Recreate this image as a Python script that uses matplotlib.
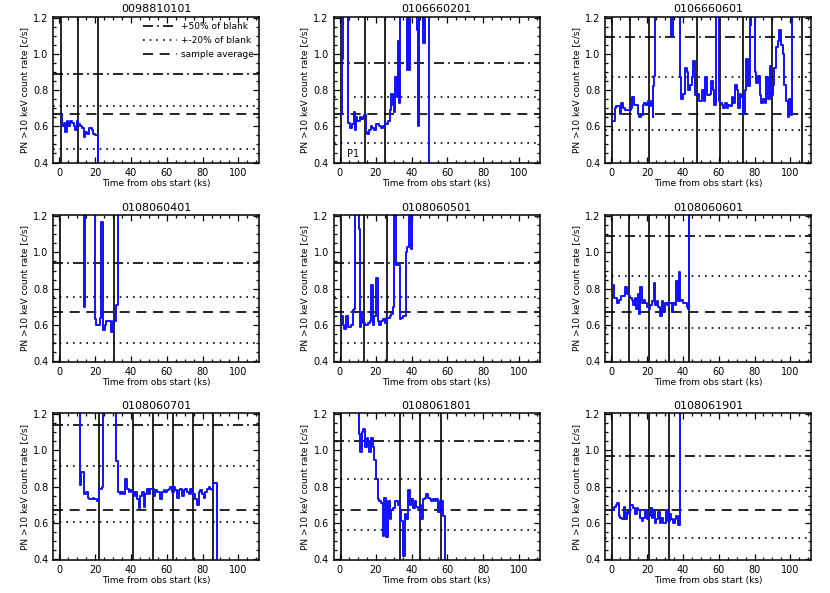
import matplotlib
matplotlib.use("Agg")
import matplotlib.pyplot as plt
from matplotlib.ticker import MultipleLocator

# observation ids (panel titles)
obs_ids = ["0098810101", "0106660201", "0106660601",
           "0108060401", "0108060501", "0108060601",
           "0108060701", "0108061801", "0108061901"]

# blank-sky rate per observation, and the sample average
blank_rate = [0.593, 0.633, 0.727, 0.627, 0.627, 0.727, 0.760, 0.700, 0.647]
sample_avg = 0.67

# light curves: bin start time (ks) and rate (c/s)
t1 = [0.7, 1.5, 2.6, 3.4, 4.1, 5.0, 6.0, 7.0, 8.0, 8.8,
      10.1, 10.6, 11.6, 12.5, 13.5, 14.5, 15.7, 16.8, 18.1, 19.0,
      20.0, 21.5]
r1 = [0.66, 0.60, 0.62, 0.57, 0.63, 0.60, 0.63, 0.62, 0.60, 0.58,
      0.63, 0.61, 0.60, 0.59, 0.54, 0.57, 0.56, 0.59, 0.58, 0.56,
      0.55, 0.0]

t2 = [0.4, 1.0, 1.6, 4.7, 5.6, 6.6, 7.6, 8.3, 9.0, 9.7,
      10.5, 11.3, 12.0, 13.0, 13.7, 14.5, 15.3, 16.2, 17.1, 18.0,
      19.0, 20.0, 21.0, 22.0, 23.0, 24.0, 25.0, 26.0, 27.0, 28.0,
      28.8, 29.5, 30.3, 31.0, 31.7, 32.4, 33.0, 33.7, 37.3, 37.8,
      38.6, 39.2, 42.8, 43.6, 44.4, 46.2, 47.7, 49.7]
r2 = [0.67, 0.97, 1.3, 0.62, 0.59, 0.61, 0.68, 0.58, 0.65, 0.63,
      0.63, 0.65, 0.64, 0.65, 0.66, 0.57, 0.56, 0.58, 0.60, 0.59,
      0.58, 0.61, 0.61, 0.60, 0.59, 0.60, 0.62, 0.61, 0.63, 0.69,
      0.78, 0.72, 0.68, 0.87, 0.76, 1.07, 0.73, 1.3, 0.91, 1.3,
      0.91, 1.3, 1.13, 0.60, 1.3, 1.06, 1.3, 0.0]

t3 = [0.9, 1.8, 2.8, 4.6, 5.5, 6.4, 7.4, 9.0, 11.0, 11.5,
      12.4, 13.5, 14.7, 15.7, 16.6, 17.5, 18.4, 19.4, 20.3, 21.2,
      22.1, 23.0, 23.5, 24.0, 24.5, 33.1, 34.6, 38.3, 39.2, 40.1,
      41.1, 42.0, 42.9, 43.8, 44.8, 45.7, 46.6, 47.9, 48.8, 49.7,
      50.6, 51.6, 52.5, 53.4, 54.3, 55.2, 55.8, 56.7, 57.6, 58.6,
      59.9, 60.8, 61.7, 62.6, 63.5, 64.5, 65.4, 66.3, 67.2, 68.1,
      69.0, 70.0, 70.9, 71.8, 72.7, 73.7, 74.6, 75.5, 76.4, 77.3,
      77.9, 78.3, 80.1, 81.0, 82.0, 82.9, 83.8, 84.7, 85.6, 86.6,
      87.5, 88.4, 89.3, 90.2, 91.1, 92.1, 93.0, 93.9, 94.8, 95.7,
      96.7, 97.6, 98.5, 99.4, 100.4, 101.0]
r3 = [0.63, 0.70, 0.71, 0.67, 0.73, 0.70, 0.69, 0.69, 0.70, 0.76,
      0.72, 0.72, 0.67, 0.65, 0.66, 0.72, 0.73, 0.72, 0.74, 0.71,
      0.74, 0.65, 0.82, 0.88, 1.3, 1.10, 1.3, 0.87, 0.75, 0.78,
      0.92, 0.90, 0.80, 0.83, 0.87, 0.96, 0.77, 0.78, 0.74, 0.74,
      0.80, 0.74, 0.87, 0.77, 0.77, 0.78, 0.85, 0.80, 0.72, 1.3,
      0.74, 0.73, 0.72, 0.70, 0.73, 0.70, 0.72, 0.71, 0.76, 0.73,
      0.83, 0.80, 0.70, 0.78, 0.76, 0.67, 0.80, 0.97, 0.82, 1.3,
      1.16, 1.3, 0.90, 0.84, 0.88, 0.77, 0.73, 0.75, 0.73, 0.87,
      0.75, 0.93, 0.77, 0.83, 0.92, 1.04, 1.07, 1.13, 1.05, 1.00,
      0.83, 0.74, 0.65, 0.75, 0.66, 1.3]

t4 = [13.2, 13.8, 14.5, 19.7, 20.5, 22.5, 23.4, 24.3, 25.3, 26.2,
      27.5, 28.7, 29.7, 31.0, 31.9, 32.8]
r4 = [1.3, 0.70, 1.3, 0.63, 0.60, 0.64, 1.17, 0.57, 0.60, 0.62,
      0.62, 0.56, 0.62, 0.62, 0.71, 1.3]

t5 = [0.4, 1.5, 2.4, 3.4, 4.3, 6.2, 7.1, 8.1, 8.6, 10.5,
      11.3, 11.9, 12.7, 14.0, 15.5, 16.8, 17.4, 18.2, 19.3, 20.3,
      21.2, 22.1, 23.0, 24.0, 25.0, 25.9, 27.0, 27.8, 28.7, 29.6,
      30.2, 31.5, 33.4, 34.3, 35.5, 36.8, 37.5, 38.5, 39.5, 40.3]
r5 = [0.65, 0.60, 0.58, 0.65, 0.59, 0.60, 0.68, 0.69, 1.3, 1.13,
      0.59, 0.67, 0.61, 0.60, 0.61, 0.62, 0.82, 0.60, 0.65, 0.86,
      0.62, 0.60, 0.62, 0.63, 0.61, 0.64, 0.64, 0.65, 0.66, 0.70,
      1.3, 0.93, 0.63, 0.64, 0.65, 1.00, 1.03, 1.3, 1.02, 1.3]

t6 = [0.55, 1.5, 3.3, 4.2, 5.2, 6.6, 7.6, 8.5, 9.8, 10.7,
      11.6, 12.2, 13.1, 14.0, 14.7, 15.3, 16.2, 17.1, 18.0, 19.0,
      19.9, 20.8, 21.7, 22.7, 23.6, 24.5, 25.4, 26.3, 27.3, 28.2,
      29.1, 30.0, 30.9, 31.9, 32.8, 33.7, 34.6, 35.5, 36.1, 37.0,
      37.8, 38.3, 39.2, 40.1, 42.0, 42.9, 43.5]
r6 = [0.82, 0.75, 0.72, 0.74, 0.76, 0.76, 0.81, 0.77, 0.76, 0.75,
      0.74, 0.71, 0.75, 0.69, 0.77, 0.66, 0.81, 0.72, 0.74, 0.72,
      0.70, 0.69, 0.71, 0.73, 0.83, 0.71, 0.73, 0.70, 0.65, 0.73,
      0.67, 0.72, 0.71, 0.72, 0.72, 0.67, 0.72, 0.71, 0.84, 0.73,
      0.89, 0.73, 0.74, 0.72, 0.70, 0.69, 1.3]

t7 = [11.0, 11.6, 12.1, 14.0, 15.0, 15.9, 16.8, 18.7, 19.6, 20.9,
      21.9, 22.8, 23.6, 24.3, 31.8, 32.7, 33.6, 34.6, 35.5, 36.4,
      36.9, 37.9, 38.8, 39.7, 40.7, 41.6, 42.5, 43.5, 44.4, 45.3,
      46.2, 47.2, 48.1, 49.0, 50.1, 50.8, 51.8, 52.7, 53.6, 54.5,
      55.5, 56.4, 57.3, 58.3, 59.2, 60.1, 61.1, 62.0, 62.9, 63.9,
      64.8, 65.7, 66.6, 67.6, 68.5, 69.4, 70.4, 71.3, 72.2, 73.1,
      74.1, 75.0, 75.9, 76.9, 77.8, 78.7, 79.6, 80.6, 81.5, 82.4,
      83.4, 84.3, 85.2, 86.1, 87.9]
r7 = [1.3, 0.81, 0.88, 0.76, 0.77, 0.74, 0.73, 0.74, 0.73, 0.72,
      0.79, 0.79, 0.80, 1.3, 0.94, 0.77, 0.76, 0.77, 0.76, 0.79,
      0.84, 0.79, 0.77, 0.78, 0.77, 0.75, 0.77, 0.73, 0.68, 0.75,
      0.77, 0.69, 0.76, 0.79, 0.76, 0.79, 0.79, 0.75, 0.78, 0.77,
      0.77, 0.73, 0.77, 0.78, 0.77, 0.78, 0.79, 0.80, 0.77, 0.80,
      0.78, 0.74, 0.78, 0.79, 0.75, 0.78, 0.79, 0.77, 0.76, 0.79,
      0.76, 0.76, 0.73, 0.70, 0.77, 0.78, 0.76, 0.74, 0.77, 0.79,
      0.80, 0.79, 0.78, 0.82, 0.0]

t8 = [5.5, 6.2, 10.5, 11.2, 12.1, 13.1, 14.0, 15.0, 15.7, 16.4,
      17.4, 18.3, 19.3, 20.2, 21.1, 22.1, 23.0, 23.9, 24.9, 25.8,
      26.7, 27.7, 28.6, 29.5, 30.5, 31.4, 32.3, 33.3, 34.2, 35.1,
      36.1, 37.0, 37.9, 38.9, 39.8, 40.7, 41.7, 42.6, 43.6, 44.5,
      45.4, 46.4, 47.3, 48.2, 49.2, 50.1, 51.0, 52.0, 52.9, 53.8,
      54.8, 55.7, 56.6, 57.6, 58.5]
r8 = [1.3, 1.21, 1.09, 0.99, 1.10, 1.12, 1.02, 1.07, 1.05, 0.99,
      1.07, 1.02, 0.95, 0.84, 0.73, 0.72, 0.71, 0.53, 0.74, 0.52,
      0.72, 0.62, 0.67, 0.68, 0.72, 0.72, 0.70, 0.67, 0.61, 0.42,
      0.65, 0.62, 0.78, 0.70, 0.73, 0.68, 0.72, 0.69, 0.68, 0.70,
      0.62, 0.73, 0.74, 0.76, 0.74, 0.73, 0.72, 0.73, 0.72, 0.73,
      0.66, 0.72, 0.72, 0.64, 0.0]

t9 = [0.9, 1.5, 2.4, 3.1, 4.1, 5.0, 5.9, 6.8, 7.7, 8.7,
      9.6, 10.5, 11.4, 12.3, 13.3, 14.2, 15.1, 16.0, 16.9, 17.9,
      18.8, 19.7, 20.6, 21.5, 22.5, 23.4, 24.3, 25.2, 26.2, 27.1,
      28.0, 28.9, 29.8, 30.8, 31.7, 32.6, 33.5, 34.4, 35.4, 36.3,
      37.2, 38.3]
r9 = [0.67, 0.69, 0.70, 0.71, 0.64, 0.63, 0.62, 0.69, 0.62, 0.66,
      0.65, 0.70, 0.70, 0.68, 0.65, 0.68, 0.67, 0.63, 0.61, 0.63,
      0.67, 0.62, 0.64, 0.68, 0.63, 0.67, 0.60, 0.62, 0.66, 0.60,
      0.63, 0.60, 0.60, 0.67, 0.61, 0.65, 0.62, 0.60, 0.62, 0.64,
      0.59, 1.3]

# segment boundaries (vertical lines, ks)
b1 = [0.7, 10.6, 21.5]
b2 = [0.4, 14.1, 25.3]
b3 = [0.4, 10.3, 21.2, 47.9, 60.8, 73.7, 89.5, 106.4]
b4 = [0.4, 30.6]
b5 = [0.4, 13.5, 26.5]
b6 = [0.3, 10.1, 21.0, 32.0, 43.6]
b7 = [0.4, 22.2, 41.3, 52.5, 63.6, 74.8, 86.0]
b8 = [0.4, 33.3, 45.0, 56.2]
b9 = [0.4, 10.5, 21.3, 32.4]

times = [t1, t2, t3, t4, t5, t6, t7, t8, t9]
rates = [r1, r2, r3, r4, r5, r6, r7, r8, r9]
bounds = [b1, b2, b3, b4, b5, b6, b7, b8, b9]

fig = plt.figure(figsize=(8.3, 5.93), dpi=100)
lefts = [0.064, 0.402, 0.729]
bottoms = [0.725, 0.390, 0.056]
w, h = 0.248, 0.247

for i in range(9):
    row, col = i // 3, i % 3
    ax = fig.add_axes([lefts[col], bottoms[row], w, h])
    b = blank_rate[i]
    # +50%, +-20% of blank and the sample average
    l1 = ax.axhline(1.5 * b, color='k', lw=1.2, dashes=(6, 2.5, 1, 2.5))
    l2 = ax.axhline(1.2 * b, color='k', lw=1.2, dashes=(1, 3))
    ax.axhline(0.8 * b, color='k', lw=1.2, dashes=(1, 3))
    l3 = ax.axhline(sample_avg, color='k', lw=1.2, dashes=(6, 4))
    for xb in bounds[i]:
        ax.axvline(xb, color='k', lw=1.2)
    ax.step(times[i], rates[i], where='post', color='#1010ff', lw=1.4)
    ax.set_xlim(-3.5, 111.5)
    ax.set_ylim(0.397, 1.205)
    ax.xaxis.set_major_locator(MultipleLocator(20))
    ax.xaxis.set_minor_locator(MultipleLocator(5))
    ax.yaxis.set_major_locator(MultipleLocator(0.2))
    ax.yaxis.set_minor_locator(MultipleLocator(0.05))
    ax.yaxis.set_major_formatter(plt.FormatStrFormatter('%.1f'))
    ax.tick_params(which='both', direction='in', top=True, right=True,
                   labelsize=7, width=0.9)
    ax.tick_params(which='major', length=4.5)
    ax.tick_params(which='minor', length=2)
    for s in ax.spines.values():
        s.set_linewidth(1.1)
    ax.set_title(obs_ids[i], fontsize=8, pad=3)
    ax.set_xlabel('Time from obs start (ks)', fontsize=6.5, labelpad=1)
    ax.set_ylabel('PN >10 keV count rate [c/s]', fontsize=6.5, labelpad=3)
    if i == 0:
        ax.legend([l1, l2, l3], ['+50% of blank', '+-20% of blank', 'sample average'],
                  loc='upper right', frameon=False, fontsize=6.5,
                  handlelength=3.8, handletextpad=0.4, labelspacing=0.55,
                  borderaxespad=0.2)
    if i == 1:
        ax.text(7.5, 0.445, 'P1', fontsize=7, ha='center', va='center')

fig.savefig('out.png', dpi=100)
